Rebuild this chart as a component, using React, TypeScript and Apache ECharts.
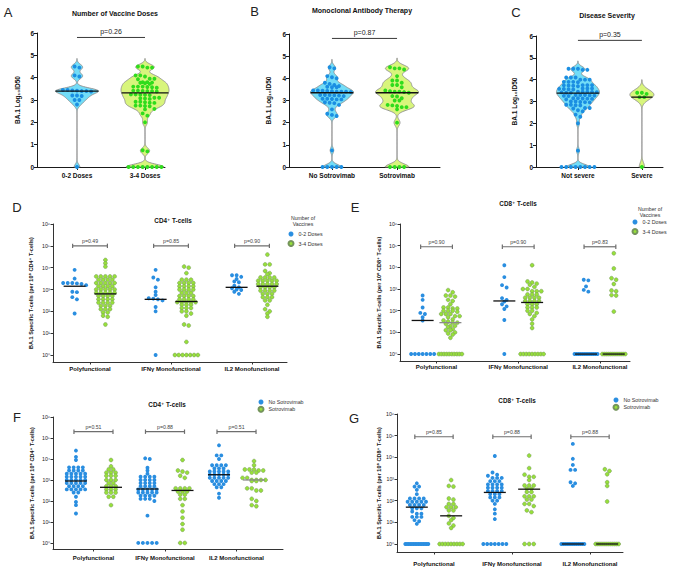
import React, { useEffect, useRef } from "react";
import * as echarts from "echarts";

// ---------------- DATA ----------------
// Top row: BA.1 log10 ID50 values
const A_CATEGORIES = ["0-2 Doses", "3-4 Doses"];
const A_DOSES_0_2 = [4.5, 4.45, 4.1, 4.05, 3.45, 3.45, 3.43, 3.42, 3.4, 3.4, 3.38, 3.2, 3.2, 3.18, 3.0, 3.0, 2.8, 0];
const A_DOSES_3_4 = [4.5, 4.5, 4.45, 4.45, 4.1, 4.1, 4.05, 3.95, 3.95, 3.93, 3.8, 3.8, 3.78, 3.77, 3.75, 3.72, 3.6, 3.6, 3.6, 3.58, 3.57, 3.55, 3.42, 3.42, 3.41, 3.4, 3.4, 3.38, 3.25, 3.25, 3.24, 3.23, 3.22, 3.1, 3.1, 3.08, 3.07, 3.05, 2.92, 2.92, 2.9, 2.88, 2.87, 2.75, 2.75, 2.73, 2.72, 2.6, 2.58, 2.4, 2.3, 2.0, 0.75, 0.7, 0, 0, 0, 0, 0, 0, 0, 0];
const A_MEDIANS = [3.4, 3.32];
const A_PVALUE = "p=0.26";

const B_CATEGORIES = ["No Sotrovimab", "Sotrovimab"];
const B_NO_SOTROVIMAB = [4.5, 4.45, 4.1, 4.05, 4.0, 3.8, 3.75, 3.7, 3.65, 3.62, 3.6, 3.6, 3.45, 3.45, 3.44, 3.43, 3.42, 3.4, 3.4, 3.4, 3.38, 3.25, 3.25, 3.24, 3.23, 3.22, 3.2, 3.08, 3.08, 3.07, 3.05, 3.05, 2.92, 2.9, 2.88, 2.8, 2.6, 2.4, 2.35, 2.3, 0.75, 0, 0, 0, 0, 0];
const B_SOTROVIMAB = [4.5, 4.45, 4.45, 4.4, 4.1, 3.9, 3.9, 3.8, 3.7, 3.7, 3.6, 3.45, 3.42, 3.4, 3.4, 3.38, 3.35, 3.2, 3.18, 3.1, 3.0, 3.0, 2.8, 2.78, 2.75, 2.7, 2.7, 2.6, 2.0, 0, 0, 0, 0];
const B_MEDIANS = [3.35, 3.35];
const B_PVALUE = "p=0.87";

const C_CATEGORIES = ["Not severe", "Severe"];
const C_NOT_SEVERE = [4.5, 4.5, 4.5, 4.45, 4.45, 4.1, 4.1, 4.1, 4.0, 4.0, 4.0, 3.9, 3.9, 3.9, 3.88, 3.75, 3.75, 3.75, 3.74, 3.73, 3.72, 3.7, 3.6, 3.6, 3.6, 3.58, 3.57, 3.56, 3.55, 3.45, 3.45, 3.45, 3.44, 3.43, 3.42, 3.4, 3.4, 3.3, 3.3, 3.3, 3.28, 3.27, 3.26, 3.25, 3.15, 3.15, 3.14, 3.13, 3.12, 3.1, 3.0, 3.0, 2.98, 2.97, 2.96, 2.85, 2.85, 2.83, 2.82, 2.7, 2.7, 2.68, 2.6, 2.55, 2.4, 2.3, 2.0, 0.75, 0, 0, 0, 0, 0, 0, 0, 0];
const C_SEVERE = [3.4, 3.4, 3.35, 3.2, 3.2, 0];
const C_MEDIANS = [3.38, 3.2];
const C_PVALUE = "p=0.35";

// Lower rows: log10 of BA.1 specific T-cells per 10^6 cells (10^0 = none detected)
const T_CATEGORIES = ["Polyfunctional", "IFNγ Monofunctional", "IL2 Monofunctional"];
const LOG_TICKS = [0, 1, 2, 3, 4, 5, 6];
const LOG_TICK_LABELS = ["10⁰", "10¹", "10²", "10³", "10⁴", "10⁵", "10⁶"];

// D: CD4+, by number of vaccine doses
const D_POLY_0_2 = [3.9, 3.5, 3.3, 3.3, 3.3, 3.28, 3.25, 3.2, 2.9, 2.88, 2.65, 2.55, 1.9];
const D_POLY_3_4 = [4.35, 4.2, 4.05, 3.6, 3.6, 3.6, 3.6, 3.6, 3.45, 3.45, 3.45, 3.45, 3.3, 3.3, 3.3, 3.3, 3.3, 3.15, 3.15, 3.15, 3.15, 3.0, 3.0, 3.0, 3.0, 3.0, 2.85, 2.85, 2.85, 2.85, 2.85, 2.7, 2.7, 2.7, 2.7, 2.55, 2.55, 2.55, 2.55, 2.4, 2.4, 2.4, 2.4, 2.25, 2.25, 2.25, 2.1, 2.1, 2.1, 1.95, 1.95, 1.8, 1.75, 1.4];
const D_IFN_0_2 = [3.9, 3.55, 3.45, 3.1, 2.9, 2.75, 2.6, 2.58, 2.55, 2.5, 2.2, 2.0, 0];
const D_IFN_3_4 = [4.05, 4.0, 3.75, 3.45, 3.45, 3.45, 3.3, 3.3, 3.3, 3.3, 3.15, 3.15, 3.15, 3.15, 3.0, 3.0, 3.0, 3.0, 2.85, 2.85, 2.85, 2.7, 2.7, 2.7, 2.7, 2.55, 2.55, 2.55, 2.55, 2.42, 2.42, 2.42, 2.42, 2.42, 2.3, 2.3, 2.3, 2.15, 2.15, 2.15, 2.0, 2.0, 1.9, 1.8, 1.4, 1.35, 0.6, 0, 0, 0, 0, 0, 0, 0];
const D_IL2_0_2 = [3.65, 3.65, 3.58, 3.48, 3.37, 3.33, 3.17, 3.1, 3.06, 3.0, 2.98, 2.9, 2.8];
const D_IL2_3_4 = [4.6, 4.15, 4.15, 3.85, 3.75, 3.7, 3.55, 3.55, 3.55, 3.55, 3.4, 3.4, 3.4, 3.4, 3.4, 3.25, 3.25, 3.25, 3.25, 3.25, 3.1, 3.1, 3.1, 3.1, 2.95, 2.95, 2.95, 2.95, 2.8, 2.8, 2.8, 2.65, 2.65, 2.65, 2.5, 2.5, 2.3, 2.1, 2.0, 1.9, 1.75];
const D_MEDIANS = [3.15, 2.8, 2.55, 2.45, 3.1, 3.15];
const D_PVALUES = ["p=0.49", "p=0.85", "p=0.90"];

// E: CD8+, by number of vaccine doses
const E_POLY_0_2 = [2.7, 2.5, 2.15, 1.9, 1.85, 1.7, 1.55, 0, 0, 0, 0, 0, 0, 0];
const E_POLY_3_4 = [2.95, 2.85, 2.7, 2.7, 2.65, 2.5, 2.45, 2.3, 2.15, 2.15, 2.1, 2.1, 2.0, 2.0, 2.0, 1.95, 1.85, 1.85, 1.85, 1.75, 1.75, 1.7, 1.6, 1.55, 1.5, 1.45, 1.45, 1.4, 1.3, 1.3, 1.25, 1.15, 1.1, 1.1, 1.0, 0.95, 0.9, 0.75, 0, 0, 0, 0, 0, 0, 0, 0, 0, 0];
const E_IFN_0_2 = [4.1, 3.55, 3.18, 3.07, 2.58, 2.5, 2.42, 2.3, 2.2, 2.08, 1.57, 0];
const E_IFN_3_4 = [4.1, 3.35, 3.3, 3.25, 3.2, 3.1, 3.0, 3.0, 2.9, 2.9, 2.9, 2.75, 2.75, 2.75, 2.6, 2.6, 2.6, 2.6, 2.45, 2.45, 2.45, 2.45, 2.3, 2.3, 2.3, 2.15, 2.15, 2.15, 2.0, 2.0, 1.9, 1.85, 1.75, 1.6, 1.4, 1.2, 0, 0, 0, 0, 0, 0, 0, 0, 0];
const E_IL2_0_2 = [3.43, 3.4, 3.12, 2.96, 2.88, 0, 0, 0, 0, 0, 0, 0, 0, 0, 0, 0, 0, 0];
const E_IL2_3_4 = [4.65, 3.95, 3.5, 3.43, 3.23, 2.93, 2.9, 2.72, 2.7, 1.96, 0, 0, 0, 0, 0, 0, 0, 0, 0, 0, 0, 0];
const E_MEDIANS = [1.55, 1.45, 2.45, 2.38, 0, 0];
const E_PVALUES = ["p=0.90", "p=0.90", "p=0.83"];

// F: CD4+, by sotrovimab
const F_POLY_NO = [4.4, 4.1, 3.95, 3.6, 3.6, 3.6, 3.6, 3.45, 3.45, 3.45, 3.45, 3.3, 3.3, 3.3, 3.3, 3.3, 3.15, 3.15, 3.15, 3.15, 3.15, 3.0, 3.0, 3.0, 3.0, 3.0, 2.85, 2.85, 2.85, 2.85, 2.85, 2.7, 2.7, 2.7, 2.7, 2.55, 2.55, 2.55, 2.55, 2.55, 2.4, 2.4, 2.2, 1.95, 1.8, 1.4];
const F_POLY_SO = [3.95, 3.65, 3.5, 3.5, 3.35, 3.35, 3.35, 3.2, 3.2, 3.2, 3.0, 3.0, 3.0, 2.85, 2.85, 2.7, 2.7, 2.7, 2.55, 2.55, 2.55, 2.4, 2.4, 2.4, 2.2, 2.2, 1.8];
const F_IFN_NO = [4.03, 4.0, 3.58, 3.45, 3.3, 3.15, 3.15, 3.15, 3.15, 3.0, 3.0, 3.0, 3.0, 2.85, 2.85, 2.85, 2.85, 2.7, 2.7, 2.7, 2.7, 2.55, 2.55, 2.55, 2.55, 2.55, 2.4, 2.4, 2.4, 2.4, 2.4, 2.25, 2.25, 2.25, 2.25, 2.1, 2.1, 2.1, 2.0, 1.3, 0, 0, 0, 0, 0];
const F_IFN_SO = [3.95, 3.45, 3.4, 3.35, 3.2, 3.1, 2.6, 2.6, 2.6, 2.6, 2.45, 2.45, 2.45, 2.3, 2.3, 2.1, 2.1, 1.8, 1.5, 1.2, 0.9, 0.63, 0, 0];
const F_IL2_NO = [4.65, 4.17, 4.17, 4.0, 3.7, 3.7, 3.7, 3.7, 3.55, 3.55, 3.55, 3.4, 3.4, 3.4, 3.4, 3.4, 3.25, 3.25, 3.25, 3.25, 3.25, 3.1, 3.1, 3.1, 3.1, 3.1, 2.95, 2.95, 2.95, 2.95, 2.8, 2.8, 2.8, 2.65, 2.65, 2.35, 2.15];
const F_IL2_SO = [3.9, 3.7, 3.5, 3.5, 3.5, 3.45, 3.45, 3.35, 3.35, 3.1, 3.1, 3.0, 3.0, 3.0, 3.0, 2.95, 2.95, 2.6, 2.6, 2.5, 2.5, 2.1, 2.0, 1.8, 1.75];
const F_MEDIANS = [2.95, 2.65, 2.57, 2.5, 3.25, 3.0];
const F_PVALUES = ["p=0.51", "p=0.88", "p=0.51"];

// G: CD8+, by sotrovimab
const G_POLY_NO = [2.8, 2.65, 2.65, 2.5, 2.3, 2.1, 2.1, 2.1, 2.1, 1.95, 1.95, 1.95, 1.95, 1.95, 1.8, 1.8, 1.8, 1.8, 1.65, 1.65, 1.65, 1.5, 1.4, 1.4, 1.25, 1.25, 1.25, 1.1, 1.05, 0.93, 0, 0, 0, 0, 0, 0, 0, 0, 0, 0, 0, 0, 0, 0, 0];
const G_POLY_SO = [2.95, 2.68, 2.65, 2.1, 2.05, 1.85, 1.85, 1.7, 1.7, 1.7, 1.55, 1.55, 1.3, 1.2, 1.1, 0.95, 0.85, 0.74, 0, 0, 0, 0, 0, 0, 0, 0, 0];
const G_IFN_NO = [4.06, 3.3, 3.2, 3.15, 3.05, 3.05, 3.05, 2.9, 2.9, 2.9, 2.75, 2.75, 2.75, 2.75, 2.6, 2.6, 2.6, 2.6, 2.45, 2.45, 2.45, 2.45, 2.3, 2.3, 2.3, 2.15, 2.15, 2.15, 2.0, 2.0, 1.85, 1.6, 1.4, 1.15, 0, 0, 0, 0, 0, 0, 0];
const G_IFN_SO = [4.08, 3.5, 3.2, 3.1, 3.1, 2.95, 2.7, 2.7, 2.7, 2.55, 2.55, 2.4, 2.4, 2.2, 2.2, 2.2, 2.05, 2.05, 1.85, 1.85, 1.75, 1.55, 1.47, 0, 0, 0];
const G_IL2_NO = [4.62, 3.93, 3.65, 3.42, 3.42, 2.85, 2.8, 2.68, 0, 0, 0, 0, 0, 0, 0, 0, 0, 0, 0, 0, 0];
const G_IL2_SO = [3.45, 3.37, 3.22, 2.85, 2.68, 1.96, 0, 0, 0, 0, 0, 0, 0, 0, 0, 0, 0, 0];
const G_MEDIANS = [1.7, 1.3, 2.38, 2.53, 0, 0];
const G_PVALUES = ["p=0.85", "p=0.88", "p=0.88"];

// ---------------- STYLE / LAYOUT ----------------
const FONT = '"Liberation Sans", Arial, "DejaVu Sans", sans-serif';
const VIOLIN_BLUE_FILL = "#72dcf7";
const VIOLIN_GREEN_FILL = "#d8f57c";
const VIOLIN_STROKE = "#8e8e8e";
const VIOLIN_DOT_BLUE = "#1b8fe2";
const VIOLIN_DOT_GREEN = "#2fdc1c";
const DOT_BLUE = "#2a8ee0";
const DOT_GREEN = "#97e03a";
const DOT_GREEN_BORDER = "#75945c";

const LAYOUT: Record<string, any> = {
  A: { left: 37, top: 33, width: 128, height: 134, xMin: -0.588, xMax: 1.294, yMin: 0, yMax: 6, nameGap: 16, labelMargin: 5 },
  B: { left: 289, top: 34, width: 151, height: 133, xMin: -0.66, xMax: 1.66, yMin: 0, yMax: 6, nameGap: 17, labelMargin: 5 },
  C: { left: 536, top: 36, width: 127, height: 131, xMin: -0.656, xMax: 1.33, yMin: 0, yMax: 6, nameGap: 18, labelMargin: 5 },
  D: { left: 53, top: 224, width: 234, height: 138, xMin: -0.457, xMax: 2.432, yMin: -0.32, yMax: 6, nameGap: 19, labelMargin: 4, off: 0.19, bracket: 5.0 },
  E: { left: 400, top: 224, width: 230, height: 137, xMin: -0.447, xMax: 2.368, yMin: -0.32, yMax: 6, nameGap: 18, labelMargin: 3, off: 0.17, bracket: 4.95 },
  F: { left: 53, top: 417, width: 230, height: 132, xMin: -0.566, xMax: 2.65, yMin: -0.29, yMax: 6, nameGap: 18, labelMargin: 6, off: 0.245, bracket: 5.3 },
  G: { left: 397, top: 414, width: 226, height: 138, xMin: -0.474, xMax: 2.423, yMin: -0.37, yMax: 6, nameGap: 15, labelMargin: 9, off: 0.22, bracket: 4.95 },
};

const pxX = (L: any) => L.width / (L.xMax - L.xMin);
const pxY = (L: any) => L.height / (L.yMax - L.yMin);

// Prism-like column scatter: points grouped into rows, spread horizontally
function rowLayout(values: number[], center: number, L: any, rowPx: number, spacingPx: number, maxWidthPx: number) {
  const sx = pxX(L), sy = pxY(L);
  const sorted = [...values].sort((a, b) => b - a);
  const rows: number[][] = [];
  let cur: number[] = [];
  let start = 0;
  for (const v of sorted) {
    if (cur.length && (start - v) * sy < rowPx) cur.push(v);
    else {
      if (cur.length) rows.push(cur);
      cur = [v];
      start = v;
    }
  }
  if (cur.length) rows.push(cur);
  const out: number[][] = [];
  for (const row of rows) {
    const n = row.length;
    const s = n > 1 ? Math.min(spacingPx, maxWidthPx / (n - 1)) : 0;
    row.forEach((v, i) => out.push([center + ((i - (n - 1) / 2) * s) / sx, v]));
  }
  return out;
}

function violinProfile(values: number[], bw: number, maxHalfPx: number) {
  const lo = Math.max(0, Math.min(...values) - 3 * bw);
  const hi = Math.max(...values) + 3 * bw;
  const steps = Math.ceil((hi - lo) / 0.02);
  const ys: number[] = [];
  const d: number[] = [];
  for (let k = 0; k <= steps; k++) {
    const y = lo + ((hi - lo) * k) / steps;
    let s = 0;
    for (const v of values) s += Math.exp(-0.5 * ((y - v) / bw) ** 2);
    ys.push(y);
    d.push(s);
  }
  const dm = Math.max(...d);
  return { ys, hw: d.map((x) => (x / dm) * maxHalfPx) };
}

function halfWidthAt(prof: { ys: number[]; hw: number[] }, y: number) {
  let best = 0;
  for (let k = 0; k < prof.ys.length; k++) if (Math.abs(prof.ys[k] - y) < Math.abs(prof.ys[best] - y)) best = k;
  return prof.hw[best];
}

function textStyle(text: string, size: number, weight: string, fill: string, align: string, vAlign: string, extra: any = {}) {
  return {
    text,
    fill,
    fontSize: size,
    fontWeight: weight,
    fontFamily: FONT,
    align,
    verticalAlign: vAlign,
    textAlign: align,
    textVerticalAlign: vAlign,
    ...extra,
  };
}

function buildOption() {
  const grids: any[] = [];
  const xAxes: any[] = [];
  const yAxes: any[] = [];
  const series: any[] = [];

  const violinPanels = [
    { key: "A", cats: A_CATEGORIES, groups: [A_DOSES_0_2, A_DOSES_3_4], medians: A_MEDIANS, p: A_PVALUE, widths: [21.5, 24], bws: [0.12, 0.12] },
    { key: "B", cats: B_CATEGORIES, groups: [B_NO_SOTROVIMAB, B_SOTROVIMAB], medians: B_MEDIANS, p: B_PVALUE, widths: [21.5, 21.5], bws: [0.12, 0.14] },
    { key: "C", cats: C_CATEGORIES, groups: [C_NOT_SEVERE, C_SEVERE], medians: C_MEDIANS, p: C_PVALUE, widths: [21.5, 12], bws: [0.12, 0.2] },
  ];
  const dotPanels = [
    { key: "D", blue: [D_POLY_0_2, D_IFN_0_2, D_IL2_0_2], green: [D_POLY_3_4, D_IFN_3_4, D_IL2_3_4], medians: D_MEDIANS, p: D_PVALUES, names: ["0-2 Doses", "3-4 Doses"], cell: "CD4⁺", grayMedian: [] as number[] },
    { key: "E", blue: [E_POLY_0_2, E_IFN_0_2, E_IL2_0_2], green: [E_POLY_3_4, E_IFN_3_4, E_IL2_3_4], medians: E_MEDIANS, p: E_PVALUES, names: ["0-2 Doses", "3-4 Doses"], cell: "CD8⁺", grayMedian: [1] },
    { key: "F", blue: [F_POLY_NO, F_IFN_NO, F_IL2_NO], green: [F_POLY_SO, F_IFN_SO, F_IL2_SO], medians: F_MEDIANS, p: F_PVALUES, names: ["No Sotrovimab", "Sotrovimab"], cell: "CD4⁺", grayMedian: [5] },
    { key: "G", blue: [G_POLY_NO, G_IFN_NO, G_IL2_NO], green: [G_POLY_SO, G_IFN_SO, G_IL2_SO], medians: G_MEDIANS, p: G_PVALUES, names: ["No Sotrovimab", "Sotrovimab"], cell: "CD8⁺", grayMedian: [] as number[] },
  ];

  let gi = 0;
  // ---- violin panels
  for (const P of violinPanels) {
    const L = LAYOUT[P.key];
    const idx = gi++;
    grids.push({ left: L.left, top: L.top, width: L.width, height: L.height });
    xAxes.push({
      type: "value", gridIndex: idx, min: L.xMin, max: L.xMax,
      axisLine: { show: true, onZero: false, lineStyle: { color: "#1a1a1a", width: 1 } },
      axisTick: { show: true, customValues: [0, 1], length: 3, lineStyle: { color: "#1a1a1a" } },
      axisLabel: { customValues: [0, 1], formatter: (v: number) => P.cats[Math.round(v)], fontSize: 6.5, fontWeight: "bold", color: "#111", margin: L.labelMargin, fontFamily: FONT },
      splitLine: { show: false },
    });
    yAxes.push({
      type: "value", gridIndex: idx, min: 0, max: 6, interval: 1,
      name: "BA.1 Log₁₀ID50", nameLocation: "middle", nameGap: L.nameGap,
      nameTextStyle: { fontSize: 6.5, fontWeight: "bold", color: "#111", fontFamily: FONT },
      axisLine: { show: true, onZero: false, lineStyle: { color: "#1a1a1a", width: 1 } },
      axisTick: { show: true, length: 3, lineStyle: { color: "#1a1a1a" } },
      axisLabel: { fontSize: 6.5, fontWeight: "bold", color: "#111", margin: 3, fontFamily: FONT },
      splitLine: { show: false },
    });
    const profiles = P.groups.map((vals, g) => violinProfile(vals, P.bws[g], P.widths[g]));
    const fills = [VIOLIN_BLUE_FILL, VIOLIN_GREEN_FILL];
    series.push({
      type: "custom", xAxisIndex: idx, yAxisIndex: idx, z: 1, silent: true,
      data: P.groups.map((_, g) => [g, P.medians[g]]),
      renderItem: (params: any, api: any) => {
        const g = api.value(0);
        const prof = profiles[g];
        const left: number[][] = [];
        const right: number[][] = [];
        for (let k = 0; k < prof.ys.length; k++) {
          const c = api.coord([g, prof.ys[k]]);
          left.push([c[0] - prof.hw[k], c[1]]);
          right.push([c[0] + prof.hw[k], c[1]]);
        }
        return {
          type: "polygon",
          shape: { points: left.concat(right.reverse()) },
          style: { fill: fills[g], stroke: VIOLIN_STROKE, lineWidth: 0.9 },
        };
      },
    });
    P.groups.forEach((vals, g) => {
      series.push({
        type: "scatter", name: `${P.key} ${P.cats[g]}`, xAxisIndex: idx, yAxisIndex: idx, z: 3,
        symbolSize: 3.9, silent: true,
        itemStyle: { color: g === 0 ? VIOLIN_DOT_BLUE : VIOLIN_DOT_GREEN, opacity: 1 },
        data: rowLayout(vals, g, L, 3.4, 4.7, 40),
      });
    });
    series.push({
      type: "custom", xAxisIndex: idx, yAxisIndex: idx, z: 5, silent: true,
      data: P.medians.map((m, g) => [g, m]),
      renderItem: (params: any, api: any) => {
        const g = api.value(0);
        const m = api.value(1);
        const c = api.coord([g, m]);
        const hw = halfWidthAt(profiles[g], m);
        return { type: "line", shape: { x1: c[0] - hw, y1: c[1], x2: c[0] + hw, y2: c[1] }, style: { stroke: "#111", lineWidth: 1.3 } };
      },
    });
    series.push({
      type: "custom", xAxisIndex: idx, yAxisIndex: idx, z: 5, silent: true,
      data: [[0.5, 5.8]],
      renderItem: (params: any, api: any) => {
        const a = api.coord([0, 5.8]);
        const b = api.coord([1, 5.8]);
        return {
          type: "group",
          children: [
            { type: "line", shape: { x1: a[0], y1: a[1], x2: b[0], y2: b[1] }, style: { stroke: "#222", lineWidth: 0.9 } },
            { type: "text", x: (a[0] + b[0]) / 2, y: a[1] - 2.5, style: textStyle(P.p, 7, "normal", "#222", "center", "bottom") },
          ],
        };
      },
    });
  }

  // ---- dot panels
  for (const P of dotPanels) {
    const L = LAYOUT[P.key];
    const idx = gi++;
    grids.push({ left: L.left, top: L.top, width: L.width, height: L.height });
    xAxes.push({
      type: "value", gridIndex: idx, min: L.xMin, max: L.xMax,
      axisLine: { show: true, onZero: false, lineStyle: { color: "#333", width: 1 } },
      axisTick: { show: true, customValues: [0, 1, 2], length: 2.5, lineStyle: { color: "#333" } },
      axisLabel: { customValues: [0, 1, 2], formatter: (v: number) => T_CATEGORIES[Math.round(v)], fontSize: 6, fontWeight: "bold", color: "#111", margin: L.labelMargin, fontFamily: FONT },
      splitLine: { show: false },
    });
    yAxes.push({
      type: "value", gridIndex: idx, min: L.yMin, max: L.yMax,
      name: `BA.1 Specific T-cells (per 10⁶ ${P.cell} T-cells)`, nameLocation: "middle", nameGap: L.nameGap,
      nameTextStyle: { fontSize: 5.5, fontWeight: "bold", color: "#111", fontFamily: FONT },
      axisLine: { show: true, onZero: false, lineStyle: { color: "#333", width: 1 } },
      axisTick: { show: true, customValues: LOG_TICKS, length: 2.5, lineStyle: { color: "#333" } },
      axisLabel: { customValues: LOG_TICKS, formatter: (v: number) => LOG_TICK_LABELS[Math.round(v)], fontSize: 5.2, color: "#222", margin: 3, fontFamily: FONT },
      splitLine: { show: false },
    });
    const blueData: number[][] = [];
    const greenData: number[][] = [];
    for (let c = 0; c < 3; c++) {
      blueData.push(...rowLayout(P.blue[c], c - L.off, L, 2.4, 4.6, 23));
      greenData.push(...rowLayout(P.green[c], c + L.off, L, 2.4, 4.6, 23));
    }
    series.push({
      type: "scatter", name: P.names[0], xAxisIndex: idx, yAxisIndex: idx, z: 3, symbolSize: 3.9, silent: true,
      itemStyle: { color: DOT_BLUE, opacity: 1 }, data: blueData,
    });
    series.push({
      type: "scatter", name: P.names[1], xAxisIndex: idx, yAxisIndex: idx, z: 3, symbolSize: 3.9, silent: true,
      itemStyle: { color: DOT_GREEN, borderColor: DOT_GREEN_BORDER, borderWidth: 0.5, opacity: 1 }, data: greenData,
    });
    const gray = P.grayMedian;
    series.push({
      type: "custom", xAxisIndex: idx, yAxisIndex: idx, z: 5, silent: true,
      data: P.medians.map((m, k) => [Math.floor(k / 2) + (k % 2 === 0 ? -L.off : L.off), m]),
      renderItem: (params: any, api: any) => {
        const c = api.coord([api.value(0), api.value(1)]);
        const isGray = gray.indexOf(params.dataIndex) >= 0;
        return { type: "line", shape: { x1: c[0] - 11, y1: c[1], x2: c[0] + 11, y2: c[1] }, style: { stroke: isGray ? "#8a8a8a" : "#111", lineWidth: 1.3 } };
      },
    });
    series.push({
      type: "custom", xAxisIndex: idx, yAxisIndex: idx, z: 5, silent: true,
      data: P.p.map((_, c) => [c, L.bracket]),
      renderItem: (params: any, api: any) => {
        const c = api.value(0);
        const yv = api.value(1);
        const a = api.coord([c - L.off, yv]);
        const b = api.coord([c + L.off, yv]);
        const x1 = a[0] - 2, x2 = b[0] + 2;
        const st = { stroke: "#6e6e6e", lineWidth: 1.2 };
        return {
          type: "group",
          children: [
            { type: "line", shape: { x1, y1: a[1], x2, y2: a[1] }, style: st },
            { type: "line", shape: { x1, y1: a[1] - 2.2, x2: x1, y2: a[1] + 2.2 }, style: st },
            { type: "line", shape: { x1: x2, y1: a[1] - 2.2, x2, y2: a[1] + 2.2 }, style: st },
            { type: "text", x: (x1 + x2) / 2, y: a[1] - 2, style: textStyle(P.p[c], 5.2, "normal", "#444", "center", "bottom") },
          ],
        };
      },
    });
  }

  const legendBase = {
    orient: "vertical", icon: "circle", itemWidth: 5, itemHeight: 5, padding: 0, selectedMode: false,
    textStyle: { fontSize: 5.3, color: "#333", fontFamily: FONT, lineHeight: 6 },
  };
  const legends = [
    { ...legendBase, data: ["0-2 Doses", "3-4 Doses"], left: 287.5, top: 231, itemGap: 3 },
    { ...legendBase, data: ["0-2 Doses", "3-4 Doses"], left: 631.5, top: 219, itemGap: 3 },
    { ...legendBase, data: ["No Sotrovimab", "Sotrovimab"], left: 257.5, top: 399, itemGap: 0.8 },
    { ...legendBase, data: ["No Sotrovimab", "Sotrovimab"], left: 612.5, top: 397, itemGap: 0.8 },
  ];

  const letter = (t: string, x: number, y: number) => ({ type: "text", x, y, silent: true, style: textStyle(t, 13, "normal", "#222", "center", "middle") });
  const title = (t: string, x: number, y: number, size: number) => ({ type: "text", x, y, silent: true, style: textStyle(t, size, "bold", "#111", "center", "middle") });
  const graphic = [
    letter("A", 8, 12.5), letter("B", 254.5, 11.5), letter("C", 516, 12),
    letter("D", 17, 207), letter("E", 355, 207), letter("F", 17, 417), letter("G", 354, 418),
    title("Number of Vaccine Doses", 115, 13, 7), title("Monoclonal Antibody Therapy", 362, 10, 7), title("Disease Severity", 607, 15, 7),
    title("CD4⁺ T-cells", 173, 220, 6.3), title("CD8⁺ T-cells", 518, 203, 6.3), title("CD4⁺ T-cells", 167, 404, 6.3), title("CD8⁺ T-cells", 517, 400, 6.3),
    { type: "text", x: 303, y: 221, silent: true, style: textStyle("Number of\nVaccines", 5.2, "normal", "#333", "center", "middle", { lineHeight: 5.6 }) },
    { type: "text", x: 650, y: 212, silent: true, style: textStyle("Number of\nVaccines", 5.2, "normal", "#333", "center", "middle", { lineHeight: 5.6 }) },
  ];

  return {
    animation: false,
    backgroundColor: "#ffffff",
    textStyle: { fontFamily: FONT },
    grid: grids,
    xAxis: xAxes,
    yAxis: yAxes,
    legend: legends,
    graphic,
    series,
  };
}

export default function App() {
  const ref = useRef<HTMLDivElement>(null);
  useEffect(() => {
    document.body.style.margin = "0";
    if (!ref.current) return;
    const chart = echarts.init(ref.current, undefined, { renderer: "svg" });
    chart.setOption(buildOption() as any);
    return () => chart.dispose();
  }, []);
  return <div ref={ref} style={{ width: 685, height: 568 }} />;
}
